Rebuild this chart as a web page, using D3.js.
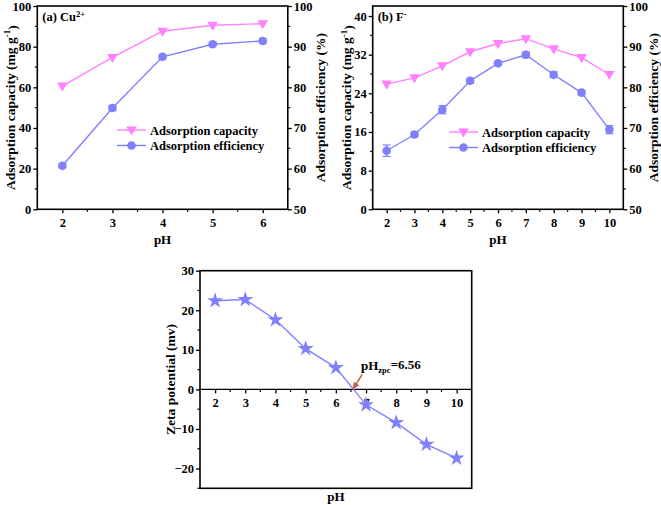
<!DOCTYPE html>
<html><head><meta charset="utf-8">
<script src="https://cdn.jsdelivr.net/npm/d3@7"></script>
<style>
body{margin:0;background:#fff;}
svg{display:block;font-family:"Liberation Serif","Times New Roman",serif;font-weight:bold;}
</style></head>
<body><svg id="c" width="661" height="505"></svg>
<script>
// ---- data ----
const phA = [2, 3, 4, 5, 6];
const capA = [60.6, 74.7, 87.6, 90.5, 91.3];
const effA = [60.7, 74.9, 87.5, 90.6, 91.4];
const effErrA = [0.5, 0.6, 0.5, 0.5, 0.6];

const phB = [2, 3, 4, 5, 6, 7, 8, 9, 10];
const capB = [25.9, 27.2, 29.7, 32.6, 34.3, 35.3, 33.2, 31.4, 27.9];
const effB = [64.4, 68.4, 74.5, 81.6, 85.9, 88.0, 83.1, 78.7, 69.6];
const effErrB = [1.4, 0.6, 1.0, 0.6, 0.5, 0.7, 0.7, 0.5, 1.0];

const phC = [2, 3, 4, 5, 6, 7, 8, 9, 10];
const zeta = [22.4, 22.7, 17.6, 10.3, 5.5, -3.9, -8.4, -13.9, -17.4];
const pHzpc = 6.56;

const ticksA = [2, 3, 4, 5, 6];
const ticksB = [2, 3, 4, 5, 6, 7, 8, 9, 10];
const capTicksA = [0, 20, 40, 60, 80, 100];
const capTicksB = [0, 8, 16, 24, 32, 40];
const effTicks = [50, 60, 70, 80, 90, 100];
const zetaTicks = [-20, -10, 0, 10, 20, 30];

const PINK = "#ff80ff", BLUE = "#8080ff", ARROW = "#c0604a";
const svg = d3.select("#c");

function sup(textSel, parts) {
  parts.forEach(p => {
    const t = textSel.append("tspan").text(p.t);
    if (p.sup) t.attr("dy", p.dy).attr("font-size", p.fs);
  });
}

function minorTicks(g, scale, vals, orient, size) {
  vals.forEach(v => {
    const p = scale(v);
    if (orient === "bottom") g.append("line").attr("x1", p).attr("x2", p).attr("y1", 0).attr("y2", size);
    if (orient === "left") g.append("line").attr("y1", p).attr("y2", p).attr("x1", 0).attr("x2", -size);
    if (orient === "right") g.append("line").attr("y1", p).attr("y2", p).attr("x1", 0).attr("x2", size);
  });
  g.selectAll("line").attr("stroke", "#000").attr("stroke-width", 1.2);
}

function styleAxis(g) {
  g.select(".domain").remove();
  g.selectAll(".tick line").attr("stroke", "#000").attr("stroke-width", 1.3);
  g.selectAll(".tick text").attr("font-size", 12.5).attr("font-weight", "bold").attr("fill", "#000")
    .attr("font-family", '"Liberation Serif",serif');
}

function dualPanel(o) {
  const x = d3.scaleLinear().domain([1.5, o.xmax]).range([o.L, o.R]);
  const yL = d3.scaleLinear().domain([0, o.capMax]).range([o.B, o.T]);
  const yR = d3.scaleLinear().domain([50, 100]).range([o.B, o.T]);

  // axes
  const gx = svg.append("g").attr("transform", `translate(0,${o.B})`)
    .call(d3.axisBottom(x).tickValues(o.xt).tickSize(4).tickPadding(3).tickFormat(d3.format("d")));
  styleAxis(gx);
  gx.selectAll(".tick text").attr("dy", "0.85em");
  minorTicks(svg.append("g").attr("transform", `translate(0,${o.B})`), x, o.xt.map(d => d + 0.5).filter(d => d < o.xmax), "bottom", 2.5);

  const gl = svg.append("g").attr("transform", `translate(${o.L},0)`)
    .call(d3.axisLeft(yL).tickValues(o.capT).tickSize(4).tickPadding(2));
  styleAxis(gl);
  minorTicks(svg.append("g").attr("transform", `translate(${o.L},0)`), yL,
    o.capT.slice(0, -1).map((d, i) => (d + o.capT[i + 1]) / 2).concat(o.capT[o.capT.length-1] + (o.capT[1]-o.capT[0])/2 <= o.capMax ? [o.capT[o.capT.length-1] + (o.capT[1]-o.capT[0])/2] : []), "left", 2.5);

  const gr = svg.append("g").attr("transform", `translate(${o.R},0)`)
    .call(d3.axisRight(yR).tickValues(effTicks).tickSize(4).tickPadding(2));
  styleAxis(gr);
  minorTicks(svg.append("g").attr("transform", `translate(${o.R},0)`), yR, [55, 65, 75, 85, 95], "right", 2.5);

  // frame
  svg.append("rect").attr("x", o.L).attr("y", o.T).attr("width", o.R - o.L).attr("height", o.B - o.T)
    .attr("fill", "none").attr("stroke", "#000").attr("stroke-width", 1.6);

  // lines
  const lineL = d3.line().x((d, i) => x(o.ph[i])).y(d => yL(d));
  const lineR = d3.line().x((d, i) => x(o.ph[i])).y(d => yR(d));
  svg.append("path").attr("d", lineL(o.cap)).attr("fill", "none").attr("stroke", PINK).attr("stroke-width", 1.4);
  svg.append("path").attr("d", lineR(o.eff)).attr("fill", "none").attr("stroke", BLUE).attr("stroke-width", 1.4);

  // error bars
  o.eff.forEach((v, i) => {
    const cx = x(o.ph[i]), e = o.err[i];
    const g = svg.append("g").attr("stroke", BLUE).attr("stroke-width", 1.2);
    g.append("line").attr("x1", cx).attr("x2", cx).attr("y1", yR(v - e)).attr("y2", yR(v + e));
    [v - e, v + e].forEach(w => g.append("line").attr("x1", cx - 4).attr("x2", cx + 4).attr("y1", yR(w)).attr("y2", yR(w)));
  });

  // markers
  const tri = d3.symbol().type(d3.symbolTriangle).size(48);
  o.cap.forEach((v, i) => svg.append("path").attr("d", tri())
    .attr("transform", `translate(${x(o.ph[i])},${yL(v) - 0.5}) rotate(180)`).attr("fill", PINK));
  o.eff.forEach((v, i) => svg.append("circle").attr("cx", x(o.ph[i])).attr("cy", yR(v)).attr("r", 4.3).attr("fill", BLUE));

  // legend
  const legs = [{c: PINK, t: "Adsorption capacity", m: "tri"}, {c: BLUE, t: "Adsorption efficiency", m: "cir"}];
  legs.forEach((l, i) => {
    const ly = o.legY + i * 15.5;
    svg.append("line").attr("x1", o.legX).attr("x2", o.legX + 29).attr("y1", ly).attr("y2", ly).attr("stroke", l.c).attr("stroke-width", 1.4);
    if (l.m === "tri") svg.append("path").attr("d", tri()).attr("transform", `translate(${o.legX + 14.5},${ly - 0.5}) rotate(180)`).attr("fill", l.c);
    else svg.append("circle").attr("cx", o.legX + 14.5).attr("cy", ly).attr("r", 4.3).attr("fill", l.c);
    svg.append("text").attr("x", o.legX + 33).attr("y", ly + 4.5).attr("font-size", 12.5).text(l.t);
  });

  // panel label
  const pl = svg.append("text").attr("x", o.L + 5).attr("y", o.T + 15).attr("font-size", 12.5);
  sup(pl, o.label);

  // axis titles
  svg.append("text").attr("x", (o.L + o.R) / 2).attr("y", o.B + 35).attr("text-anchor", "middle").attr("font-size", 13).text("pH");
  const tl = svg.append("text").attr("transform", `translate(${o.tL},${(o.T + o.B) / 2}) rotate(-90)`)
    .attr("text-anchor", "middle").attr("font-size", 13.5);
  sup(tl, [{t: "Adsorption capacity (mg g"}, {t: "-1", sup: true, dy: "-0.45em", fs: 9}, {t: ")", sup: true, dy: "0.45em", fs: 13.5}]);
  svg.append("text").attr("transform", `translate(${o.tR},${(o.T + o.B) / 2}) rotate(-90)`)
    .attr("text-anchor", "middle").attr("font-size", 13.5).text("Adsorption efficiency (%)");
}

dualPanel({L: 37.3, R: 287.8, T: 6, B: 209.3, xmax: 6.5, xt: ticksA, capMax: 100, capT: capTicksA,
  ph: phA, cap: capA, eff: effA, err: effErrA, legX: 117, legY: 130,
  label: [{t: "(a) Cu"}, {t: "2+", sup: true, dy: "-0.45em", fs: 8.5}], tL: 14.5, tR: 325});

dualPanel({L: 372.7, R: 623.3, T: 6, B: 209.3, xmax: 10.5, xt: ticksB, capMax: 42.07, capT: capTicksB,
  ph: phB, cap: capB, eff: effB, err: effErrB, legX: 449, legY: 132,
  label: [{t: "(b) F"}, {t: "-", sup: true, dy: "-0.45em", fs: 8.5}], tL: 351, tR: 658});

// ---- panel (c) ----
(function () {
  const L = 200, R = 471.7, T = 270.7, B = 488.3;
  const x = d3.scaleLinear().domain([1.5, 10.5]).range([L, R]);
  const y = d3.scaleLinear().domain([-25, 30]).range([B, T]);

  svg.append("rect").attr("x", L).attr("y", T).attr("width", R - L).attr("height", B - T)
    .attr("fill", "none").attr("stroke", "#000").attr("stroke-width", 1.6);

  const gx = svg.append("g").attr("transform", `translate(0,${y(0)})`)
    .call(d3.axisBottom(x).tickValues(ticksB).tickSize(4).tickPadding(3).tickFormat(d3.format("d")));
  styleAxis(gx);
  gx.selectAll(".tick text").attr("dy", "0.85em");
  svg.append("line").attr("x1", L).attr("x2", R).attr("y1", y(0)).attr("y2", y(0)).attr("stroke", "#000").attr("stroke-width", 1.4);
  minorTicks(svg.append("g").attr("transform", `translate(0,${y(0)})`), x, ticksB.map(d => d + 0.5).filter(d => d < 10.5), "bottom", 2.5);

  const gy = svg.append("g").attr("transform", `translate(${L},0)`)
    .call(d3.axisLeft(y).tickValues(zetaTicks).tickSize(4).tickPadding(2).tickFormat(d3.format("d")));
  styleAxis(gy);
  minorTicks(svg.append("g").attr("transform", `translate(${L},0)`), y, [-25, -15, -5, 5, 15, 25], "left", 2.5);

  const line = d3.line().x((d, i) => x(phC[i])).y(d => y(d));
  svg.append("path").attr("d", line(zeta)).attr("fill", "none").attr("stroke", BLUE).attr("stroke-width", 1.4);
  const star = d3.symbol().type(d3.symbolStar).size(80);
  zeta.forEach((v, i) => svg.append("path").attr("d", star()).attr("transform", `translate(${x(phC[i])},${y(v)})`).attr("fill", BLUE));

  // annotation arrow
  const ax = x(pHzpc), ay = y(0);
  const sx = ax + 9.5, sy = ay - 15;
  const ang = Math.atan2(ay - sy, ax - sx);
  svg.append("line").attr("x1", sx).attr("y1", sy).attr("x2", ax - 5 * Math.cos(ang)).attr("y2", ay - 5 * Math.sin(ang))
    .attr("stroke", ARROW).attr("stroke-width", 1.6);
  const hl = 7, hw = 3.2;
  const bx = ax - hl * Math.cos(ang), by = ay - hl * Math.sin(ang);
  svg.append("path").attr("d", `M${ax},${ay} L${bx + hw * Math.sin(ang)},${by - hw * Math.cos(ang)} L${bx - hw * Math.sin(ang)},${by + hw * Math.cos(ang)} Z`)
    .attr("fill", ARROW);
  const at = svg.append("text").attr("x", 361).attr("y", 370).attr("font-size", 13);
  sup(at, [{t: "pH"}, {t: "zpc", sup: true, dy: "0.3em", fs: 8.5}, {t: "=" + pHzpc, sup: true, dy: "-0.3em", fs: 13}]);

  svg.append("text").attr("x", 166).attr("y", 0).attr("text-anchor", "middle").attr("font-size", 13)
    .attr("transform", `translate(${(L + R) / 2 - 166},501)`).text("pH");
  svg.append("text").attr("transform", `translate(175,${(T + B) / 2}) rotate(-90)`)
    .attr("text-anchor", "middle").attr("font-size", 13.5).text("Zeta potential (mv)");
})();
</script></body></html>
